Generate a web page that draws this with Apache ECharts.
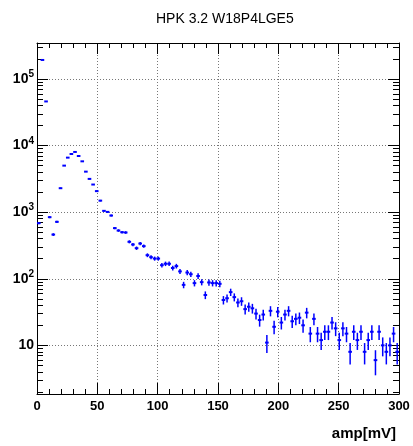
<!DOCTYPE html>
<html>
<head>
<meta charset="utf-8">
<title>HPK 3.2 W18P4LGE5</title>
<script src="https://cdn.jsdelivr.net/npm/echarts@6.0.0/dist/echarts.min.js"></script>
<style>
    html, body { margin: 0; padding: 0; background: #fff; }
    #main { width: 413px; height: 446px; }
</style>
</head>
<body>
<div id="main"></div>
<script>
    // histogram of amp, 3 mV wide bins (bin centres)
    const binWidth = 3;
    const ampCenters = [
        1.5, 4.5, 7.5, 10.5, 13.5, 16.5, 19.5, 22.5, 25.5, 28.5,
        31.5, 34.5, 37.5, 40.5, 43.5, 46.5, 49.5, 52.5, 55.5, 58.5,
        61.5, 64.5, 67.5, 70.5, 73.5, 76.5, 79.5, 82.5, 85.5, 88.5,
        91.5, 94.5, 97.5, 100.5, 103.5, 106.5, 109.5, 112.5, 115.5, 118.5,
        121.5, 124.5, 127.5, 130.5, 133.5, 136.5, 139.5, 142.5, 145.5, 148.5,
        151.5, 154.5, 157.5, 160.5, 163.5, 166.5, 169.5, 172.5, 175.5, 178.5,
        181.5, 184.5, 187.5, 190.5, 193.5, 196.5, 199.5, 202.5, 205.5, 208.5,
        211.5, 214.5, 217.5, 220.5, 223.5, 226.5, 229.5, 232.5, 235.5, 238.5,
        241.5, 244.5, 247.5, 250.5, 253.5, 256.5, 259.5, 262.5, 265.5, 268.5,
        271.5, 274.5, 277.5, 280.5, 283.5, 286.5, 289.5, 292.5, 295.5, 298.5
    ];
    // entries per bin
    const counts = [
        684, 193000, 46000, 841, 461, 716, 2290, 5000, 6590, 7480,
        8020, 6980, 5800, 4060, 3160, 2600, 2070, 1490, 1047, 1010,
        890, 576, 530, 500, 495, 359, 327, 288, 338, 309,
        226, 211, 201, 201, 160, 168, 168, 145, 155, 129,
        81, 124, 117, 86, 110, 89, 57, 88, 86, 86,
        84, 48, 51, 63, 53, 44, 46, 35, 38, 36,
        30, 24, 29, 11, 33, 19, 32, 22, 29, 33,
        23, 25, 26, 20, 31, 15, 25, 15, 12, 16,
        16, 22, 18, 12, 18, 15, 8, 16, 12, 16,
        8, 12, 16, 6, 16, 10, 8, 10, 15, 8
    ];
    const xTicks = [0, 50, 100, 150, 200, 250, 300];
    const yTicks = [10, 100, 1000, 10000, 100000];

    const FONT = '"Liberation Sans Narrow", "Liberation Sans", Arial, sans-serif';
    const chart = echarts.init(document.getElementById('main'));

    const frameLine = { show: true, onZero: false, lineStyle: { color: '#000', width: 1 } };
    const dotted = { show: true, lineStyle: { color: '#777', width: 1, type: [1, 2] } };

    function renderItem(params, api) {
        var x = api.value(0), n = api.value(1), err = Math.sqrt(n);
        var l = api.coord([x - binWidth / 2, n]);
        var r = api.coord([x + binWidth / 2, n]);
        var t = api.coord([x, n + err]);
        var b = api.coord([x, Math.max(n - err, 0.01)]);
        return {
            type: 'group',
            children: [
                { type: 'line', shape: { x1: t[0], y1: t[1], x2: b[0], y2: b[1] }, style: { stroke: '#0000ff', lineWidth: 1.5 } },
                { type: 'line', shape: { x1: l[0], y1: l[1], x2: r[0], y2: r[1] }, style: { stroke: '#0000ff', lineWidth: 2 } }
            ]
        };
    }

    chart.setOption({
        animation: false,
        title: [
            {
                text: 'HPK 3.2 W18P4LGE5',
                left: 151, top: 7,
                textStyle: { fontFamily: FONT, fontSize: 14, fontWeight: 'normal', color: '#000' }
            },
            {
                text: 'amp[mV]',
                right: 12, top: 421,
                textStyle: { fontFamily: FONT, fontSize: 15, fontWeight: 'bold', color: '#000' }
            }
        ],
        grid: { left: 37, right: 14, top: 43, bottom: 52 },
        xAxis: [
            {
                type: 'value', min: xTicks[0], max: xTicks[xTicks.length - 1], interval: 50,
                axisLine: frameLine,
                axisTick: { inside: true, length: 11, lineStyle: { color: '#000' } },
                minorTick: { show: true, splitNumber: 5, length: 5, lineStyle: { color: '#000' } },
                axisLabel: { fontFamily: FONT, fontSize: 13, fontWeight: 'bold', color: '#000', margin: 6 },
                splitLine: dotted
            },
            {
                type: 'value', position: 'top', min: xTicks[0], max: xTicks[xTicks.length - 1], interval: 50,
                axisLine: frameLine,
                axisTick: { inside: true, length: 11, lineStyle: { color: '#000' } },
                minorTick: { show: true, splitNumber: 5, length: 5, lineStyle: { color: '#000' } },
                axisLabel: { show: false },
                splitLine: { show: false }
            }
        ],
        yAxis: [
            {
                type: 'log', logBase: 10, min: 1.86, max: 347000,
                axisLine: frameLine,
                axisTick: { inside: true, length: 11, lineStyle: { color: '#000' } },
                minorTick: { show: true, splitNumber: 9, length: 6, lineStyle: { color: '#000' } },
                axisLabel: {
                    margin: 3,
                    showMinLabel: false, showMaxLabel: false,
                    formatter: function (v) {
                        var e = Math.round(Math.log10(v));
                        if (yTicks.indexOf(Math.pow(10, e)) < 0 || Math.abs(Math.log10(v) - e) > 1e-6) return '';
                        if (e === 1) return '{b|10}';
                        return '{b|10}{s|' + e + '}';
                    },
                    rich: {
                        b: { fontFamily: FONT, fontSize: 14, fontWeight: 'bold', color: '#000' },
                        s: { fontFamily: FONT, fontSize: 10, fontWeight: 'bold', color: '#000', padding: [0, 0, 9, 0] }
                    }
                },
                splitLine: dotted
            },
            {
                type: 'log', logBase: 10, min: 1.86, max: 347000, position: 'right',
                axisLine: frameLine,
                axisTick: { inside: true, length: 11, lineStyle: { color: '#000' } },
                minorTick: { show: true, splitNumber: 9, length: 6, lineStyle: { color: '#000' } },
                axisLabel: { show: false },
                splitLine: { show: false }
            }
        ],
        series: [
            {
                type: 'custom',
                xAxisIndex: 0, yAxisIndex: 0,
                clip: true,
                renderItem: renderItem,
                data: ampCenters.map(function (a, i) { return [a, counts[i]]; })
            }
        ]
    });
</script>
</body>
</html>
